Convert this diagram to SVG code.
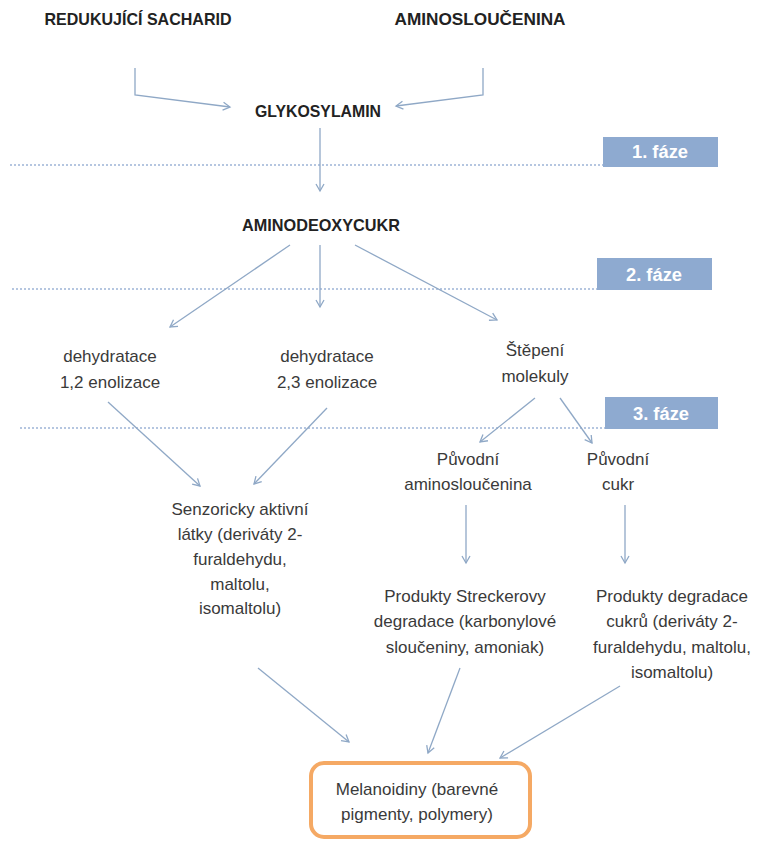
<svg xmlns="http://www.w3.org/2000/svg" width="776" height="841" viewBox="0 0 776 841">
<defs>
<marker id="ah" markerWidth="10" markerHeight="10" refX="8" refY="5" orient="auto" markerUnits="userSpaceOnUse">
<path d="M1,1 L8,5 L1,9" fill="none" stroke="#8fa8c6" stroke-width="1.3"/>
</marker>
<style>
.t{font-family:"Liberation Sans",Arial,sans-serif;font-size:17px;fill:#3a3a3a;text-anchor:middle}
.b{font-family:"Liberation Sans",Arial,sans-serif;font-size:17px;font-weight:bold;fill:#222;text-anchor:middle}
.ph{font-family:"Liberation Sans",Arial,sans-serif;font-size:18px;font-weight:bold;fill:#fff;text-anchor:middle}
.pb{fill:#8eaad0}
.dl{stroke:#9db4d6;stroke-width:1.5;stroke-dasharray:2,2;fill:none}
.c{stroke:#8fa8c6;stroke-width:1.3;fill:none;marker-end:url(#ah)}
</style>
</defs>
<rect width="776" height="841" fill="#fff"/>
<g id="phases">
<line class="dl" x1="10" y1="165" x2="603" y2="165"/>
<rect class="pb" x="603" y="137" width="115" height="30"/>
<text class="ph" x="660" y="158" textLength="56" lengthAdjust="spacingAndGlyphs">1. fáze</text>
<line class="dl" x1="12" y1="289" x2="597" y2="289"/>
<rect class="pb" x="597" y="258" width="115" height="32"/>
<text class="ph" x="654" y="281" textLength="56" lengthAdjust="spacingAndGlyphs">2. fáze</text>
<line class="dl" x1="20" y1="428" x2="605" y2="428"/>
<rect class="pb" x="605" y="397" width="113" height="32"/>
<text class="ph" x="661" y="420" textLength="56" lengthAdjust="spacingAndGlyphs">3. fáze</text>
</g>
<g id="connectors">
<polyline class="c" points="135,68 135,95 230,107"/>
<polyline class="c" points="483,68 483,95 396,106"/>
<line class="c" x1="320" y1="128" x2="320" y2="191"/>
<line class="c" x1="290" y1="245" x2="170" y2="327"/>
<line class="c" x1="320" y1="245" x2="320" y2="307"/>
<line class="c" x1="355" y1="245" x2="497" y2="320"/>
<line class="c" x1="108" y1="402" x2="200" y2="486"/>
<line class="c" x1="327" y1="408" x2="254" y2="484"/>
<line class="c" x1="535" y1="398" x2="480" y2="442"/>
<line class="c" x1="560" y1="398" x2="592" y2="443"/>
<line class="c" x1="466" y1="505" x2="466" y2="563"/>
<line class="c" x1="625" y1="505" x2="625" y2="563"/>
<line class="c" x1="258" y1="668" x2="349" y2="742"/>
<line class="c" x1="460" y1="668" x2="428" y2="753"/>
<line class="c" x1="620" y1="686" x2="500" y2="758"/>
</g>
<g id="n-redukujici"><text class="b" x="138" y="25" textLength="187" lengthAdjust="spacingAndGlyphs">REDUKUJÍCÍ SACHARID</text></g>
<g id="n-aminoslouc"><text class="b" x="480" y="25" textLength="171" lengthAdjust="spacingAndGlyphs">AMINOSLOUČENINA</text></g>
<g id="n-glykosylamin"><text class="b" x="318" y="117" textLength="126" lengthAdjust="spacingAndGlyphs">GLYKOSYLAMIN</text></g>
<g id="n-aminodeoxycukr"><text class="b" x="321" y="231" textLength="158" lengthAdjust="spacingAndGlyphs">AMINODEOXYCUKR</text></g>
<g id="n-dehyd12"><text class="t" x="110" y="362">dehydratace</text><text class="t" x="110" y="388">1,2 enolizace</text></g>
<g id="n-dehyd23"><text class="t" x="327" y="362">dehydratace</text><text class="t" x="327" y="388">2,3 enolizace</text></g>
<g id="n-stepeni"><text class="t" x="535" y="356">Štěpení</text><text class="t" x="535" y="382">molekuly</text></g>
<g id="n-puv-amino"><text class="t" x="468" y="465">Původní</text><text class="t" x="468" y="490">aminosloučenina</text></g>
<g id="n-puv-cukr"><text class="t" x="618" y="465">Původní</text><text class="t" x="618" y="490">cukr</text></g>
<g id="n-senzoricky"><text class="t" x="240" y="515">Senzoricky aktivní</text><text class="t" x="240" y="540">látky (deriváty 2-</text><text class="t" x="240" y="565">furaldehydu,</text><text class="t" x="240" y="590">maltolu,</text><text class="t" x="240" y="614">isomaltolu)</text></g>
<g id="n-strecker"><text class="t" x="465" y="602">Produkty Streckerovy</text><text class="t" x="465" y="627">degradace (karbonylové</text><text class="t" x="465" y="653">sloučeniny, amoniak)</text></g>
<g id="n-degradace"><text class="t" x="672" y="602">Produkty degradace</text><text class="t" x="672" y="627">cukrů (deriváty 2-</text><text class="t" x="672" y="653">furaldehydu, maltolu,</text><text class="t" x="672" y="678">isomaltolu)</text></g>
<g id="n-melanoidiny">
<rect x="311" y="763" width="219" height="74" rx="13" fill="#fff" stroke="#f5a964" stroke-width="4"/>
<text class="t" x="417" y="795">Melanoidiny (barevné</text><text class="t" x="417" y="820">pigmenty, polymery)</text>
</g>
</svg>
